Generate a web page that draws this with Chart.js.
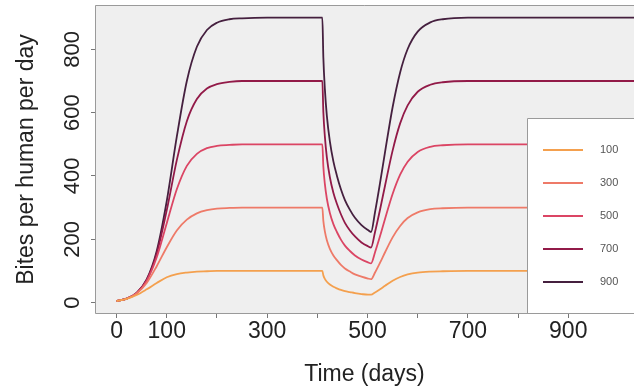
<!DOCTYPE html>
<html><head><meta charset="utf-8">
<script src="https://cdn.jsdelivr.net/npm/chart.js@4.4.1/dist/chart.umd.min.js"></script>
<style>html,body{margin:0;padding:0;background:#fff}#wrap{width:634px;height:390px}</style>
</head><body><div id="wrap"><canvas id="c" width="634" height="390"></canvas></div>
<script>
// ---- data ----
const days = [0,20,40,60,80,100,120,140,160,180,200,225,250,300,410,412,415,419,425,432,439,447,455,465,475,488,501,507,515,525,535,550,565,580,600,625,650,700,800,1050];
const seriesLabels = ['100','300','500','700','900'];
const bites100 = [5,11.5,24,42,62,80,90,95,98,99,100,100,100,100,100,86,75,66,57,50,45,40,36,33,30,27,25,25,32,42,53,69,81,89,95,98,99,100,100,100];
const bites300 = [5,12.2,28.9,62,115,175,228,262,282,292,297,299,300,300,300,258,225,197,170,149,134,119,108,98,89,82,76,74,95,126,159,206,242,267,285,295,298,300,300,300];
const bites500 = [5,12.4,29.9,68.8,143,251,358,432,470,488,495,498,500,500,500,430,375,328,283,248,223,199,180,163,149,136,127,124,159,210,265,343,404,445,476,492,497,500,500,500];
const bites700 = [5,12.4,30.3,71.4,155,292,450,573,643,676,690,697,700,700,700,602,525,459,396,347,312,279,252,228,209,190,178,174,223,294,370,480,566,623,666,688,696,700,700,700];
const bites900 = [5,12.4,30.6,73,163,321,524,700,808,861,884,895,898,900,900,774,675,590,509,446,401,358,324,293,268,245,229,223,286,378,476,617,727,801,856,885,895,900,900,900];
const xTickValues = [0,100,200,300,400,500,600,700,800,900];
const xLabeledTicks = [0,100,300,500,700,900];
const yTickValues = [0,200,400,600,800];

const allSeries = [bites100, bites300, bites500, bites700, bites900];
const colors = ['#f4a04e','#ee7a68','#db4564','#921a48','#45203f'];

const datasets = allSeries.map((vals, i) => ({
  label: seriesLabels[i],
  data: days.map((d, j) => ({x: d, y: vals[j]})),
  borderColor: colors[i],
  backgroundColor: colors[i],
  borderWidth: 1.8,
  pointRadius: 0,
  fill: false,
  cubicInterpolationMode: 'monotone'
}));

const framePlugin = {
  id: 'frame',
  beforeDraw(chart) {
    const {ctx, chartArea: a} = chart;
    ctx.save();
    ctx.fillStyle = '#efefef';
    ctx.fillRect(a.left, a.top, a.right - a.left, a.bottom - a.top);
    ctx.restore();
  },
  afterDatasetsDraw(chart) {
    const {ctx, chartArea: a} = chart;
    ctx.save();
    // legend box
    const lx = 527, ly = 118;
    ctx.fillStyle = '#ffffff';
    ctx.fillRect(lx, ly, a.right - lx, a.bottom - ly);
    ctx.strokeStyle = '#9a9a9a';
    ctx.lineWidth = 1;
    ctx.beginPath();
    ctx.moveTo(lx + 0.5, a.bottom);
    ctx.lineTo(lx + 0.5, ly + 0.5);
    ctx.lineTo(a.right, ly + 0.5);
    ctx.stroke();
    chart.data.datasets.forEach((ds, i) => {
      const y = 150 + i * 33;
      ctx.strokeStyle = ds.borderColor;
      ctx.lineWidth = 2;
      ctx.beginPath();
      ctx.moveTo(543, y);
      ctx.lineTo(583, y);
      ctx.stroke();
      ctx.fillStyle = '#555';
      ctx.font = '11px "Liberation Sans", Arial, sans-serif';
      ctx.textAlign = 'left';
      ctx.textBaseline = 'middle';
      ctx.fillText(ds.label, 600, y);
    });
    // plot frame
    ctx.strokeStyle = '#9a9a9a';
    ctx.lineWidth = 1;
    ctx.beginPath();
    ctx.moveTo(a.right, a.top + 0.5);
    ctx.lineTo(a.left + 0.5, a.top + 0.5);
    ctx.lineTo(a.left + 0.5, a.bottom - 0.5);
    ctx.lineTo(a.right, a.bottom - 0.5);
    ctx.stroke();
    ctx.restore();
  }
};

const font = '"Liberation Sans", Arial, sans-serif';

new Chart(document.getElementById('c'), {
  type: 'line',
  data: { datasets },
  plugins: [framePlugin],
  options: {
    responsive: false,
    animation: false,
    devicePixelRatio: 1,
    layout: { padding: { top: 5, left: 0, right: 0, bottom: 0 } },
    plugins: { legend: { display: false }, tooltip: { enabled: false } },
    scales: {
      x: {
        type: 'linear',
        min: -43, max: 1031,
        afterBuildTicks: s => { s.ticks = xTickValues.map(v => ({value: v})); },
        afterFit: s => { s.height = 76; s.paddingLeft = 0; s.paddingRight = 0; },
        ticks: {
          autoSkip: false, maxRotation: 0, minRotation: 0,
          callback: v => xLabeledTicks.includes(v) ? String(v) : '',
          font: { family: font, size: 23 },
          color: '#222',
          padding: 0
        },
        grid: { drawOnChartArea: false, drawTicks: true, tickLength: 4, color: '#777' },
        border: { display: false },
        title: { display: true, text: 'Time (days)', font: { family: font, size: 23 }, color: '#222', padding: { top: 0, bottom: 2 } }
      },
      y: {
        type: 'linear',
        min: -36, max: 940,
        afterBuildTicks: s => { s.ticks = yTickValues.map(v => ({value: v})); },
        afterFit: s => { s.width = 95; s.paddingTop = 0; s.paddingBottom = 0; },
        ticks: {
          minRotation: 90, maxRotation: 90, crossAlign: 'center',
          font: { family: font, size: 22 },
          color: '#222',
          padding: 0
        },
        grid: { drawOnChartArea: false, drawTicks: true, tickLength: 4, color: '#777' },
        border: { display: false },
        title: { display: true, text: 'Bites per human per day', font: { family: font, size: 23 }, color: '#222', padding: { top: 13, bottom: 0 } }
      }
    }
  }
});
</script></body></html>
